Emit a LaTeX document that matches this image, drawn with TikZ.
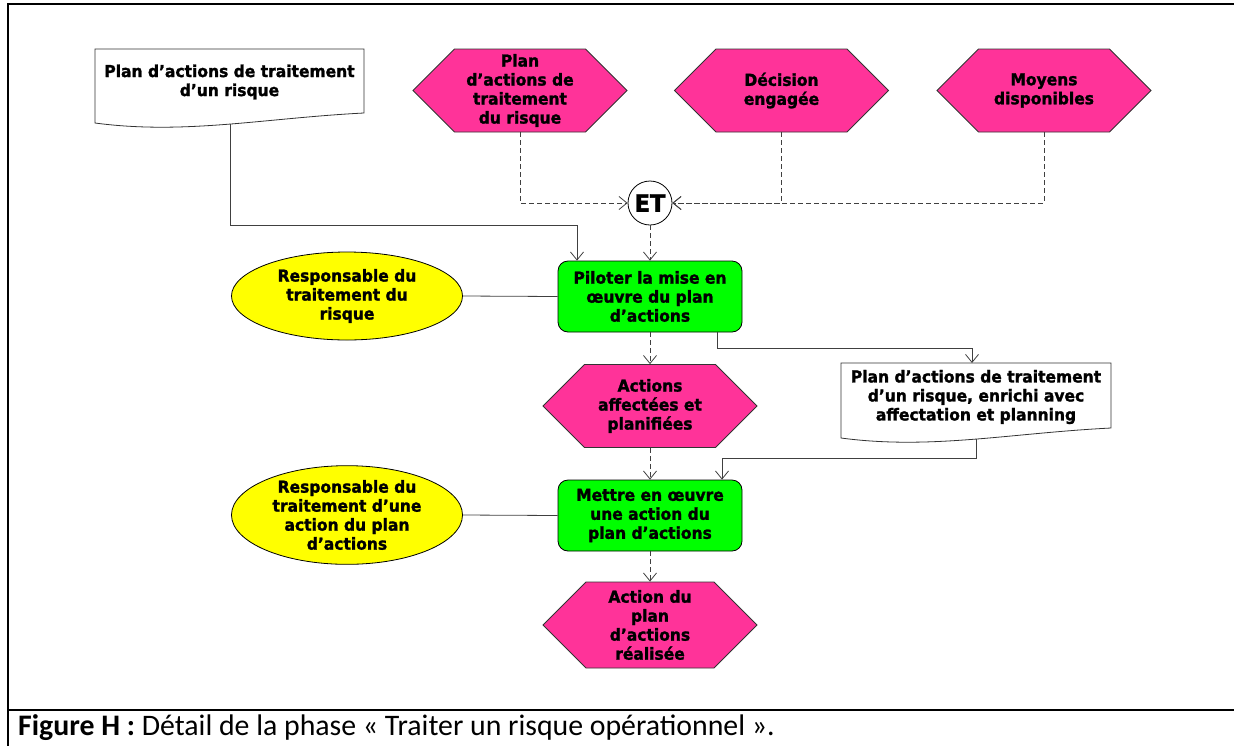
\documentclass[tikz,border=0pt]{standalone}
\usepackage{fontspec}
\setmainfont{DejaVu Sans}[FakeStretch=0.94, BoldFeatures={FakeBold=1.5}]
\newfontfamily\capfont{Carlito}
\usetikzlibrary{arrows.meta,shapes.symbols,shapes.geometric,calc}
\definecolor{hexpink}{RGB}{255,51,153}
\definecolor{actgreen}{RGB}{0,255,0}
\definecolor{roleyellow}{RGB}{255,255,0}
\definecolor{wire}{RGB}{64,64,64}

\begin{document}
\begin{tikzpicture}[x=1pt,y=-1pt,
  every node/.style={font=\bfseries\fontsize{16.5}{19}\selectfont, align=center, inner sep=0pt},
  event/.style={signal, signal to=west and east, signal pointer angle=90,
    draw=black!80, fill=hexpink, minimum width=214pt, minimum height=83pt, line width=0.8pt},
  activity/.style={rectangle, rounded corners=10pt, draw=black, fill=actgreen,
    minimum width=184pt, minimum height=71pt, line width=0.8pt},
  role/.style={ellipse, draw=black, fill=roleyellow, minimum width=231pt,
    minimum height=88pt, line width=0.8pt},
  docline/.style={draw=black!80, fill=white, line width=0.8pt},
  flow/.style={draw=wire, line width=0.8pt, -{Straight Barb[length=8pt,width=13pt]}},
  ctrl/.style={flow, dash pattern=on 5pt off 3pt},
  link/.style={draw=wire, line width=0.8pt},
]
\useasboundingbox (0,0) rectangle (1234,745);

% outer frame and caption separator
\draw[line width=2pt] (1240,3.5) -- (8,3.5) -- (8,750);
\draw[line width=2pt] (8,709.5) -- (1240,709.5);

% document outlines (flat top, wavy bottom)
\path[docline] (95,49) -- (364,49) -- (364,113)
  .. controls (265,118) and (185,135) .. (95,123) -- cycle;
\path[docline] (841,363) -- (1111,363) -- (1111,428)
  .. controls (1011,433) and (931,450) .. (841,438) -- cycle;
\node (d1) at (229.5,82) {Plan d’actions de traitement\\d’un risque};
\node (d2) at (976,397) {Plan d’actions de traitement\\d’un risque, enrichi avec\\affectation et planning};
\coordinate (d1out) at (230,124.4);
\coordinate (d2in) at (972,363);
\coordinate (d2out) at (976,439.4);

% events
\node[event] (h1) at (520,90.5) {Plan\\d’actions de\\traitement\\du risque};
\node[event] (h2) at (781.5,90.5) {Décision\\engagée};
\node[event] (h3) at (1044,90.5) {Moyens\\disponibles};
\node[event] (h4) at (650,406) {Actions\\affectées et\\planifiées};
\node[event, minimum height=86pt] (h5) at (650,625) {Action du\\plan\\d’actions\\réalisée};

% AND connector
\node[circle, draw=black, fill=white, line width=0.8pt, minimum size=44pt,
  font=\bfseries\fontsize{24}{24}\selectfont] (et) at (650,203) {ET};

% activities
\node[activity] (p1) at (650,296.5) {Piloter la mise en\\œuvre du plan\\d’actions};
\node[activity] (m1) at (650,515.5) {Mettre en œuvre\\une action du\\plan d’actions};

% roles
\node[role] (r1) at (347,296) {Responsable du\\traitement du\\risque};
\node[role, minimum height=87pt] (r2) at (347,515) {Responsable du\\traitement d’une\\action du plan\\d’actions};

% connectors
\coordinate (b1) at (577,225);
\draw[flow] (d1out) |- (b1) -- (b1 |- p1.north);
\draw[ctrl] (h1.south) |- (et.west);
\draw[ctrl] (h2.south) |- (et.east);
\draw[ctrl] (h3.south) |- (et.east);
\draw[ctrl] (et.south) -- (p1.north);
\draw[link] (r1.east) -- (p1.west);
\draw[ctrl] (p1.south) -- (h4.north);
\coordinate (b2) at (972,348);
\draw[flow] ([xshift=-25pt]p1.south east) |- (b2) -- (d2in);
\draw[ctrl] (h4.south) -- (m1.north);
\coordinate (b3) at (722,458);
\draw[flow] (d2out) |- (b3) -- (b3 |- m1.north);
\draw[link] (r2.east) -- (m1.west);
\draw[ctrl] (m1.south) -- (h5.north);

% caption
\node[anchor=base west, font=\capfont\fontsize{29.8}{29.8}\selectfont] (cap) at (18,735)
  {\textbf{Figure H :} Détail de la phase « Traiter un risque opérationnel ».};
\end{tikzpicture}
\end{document}
